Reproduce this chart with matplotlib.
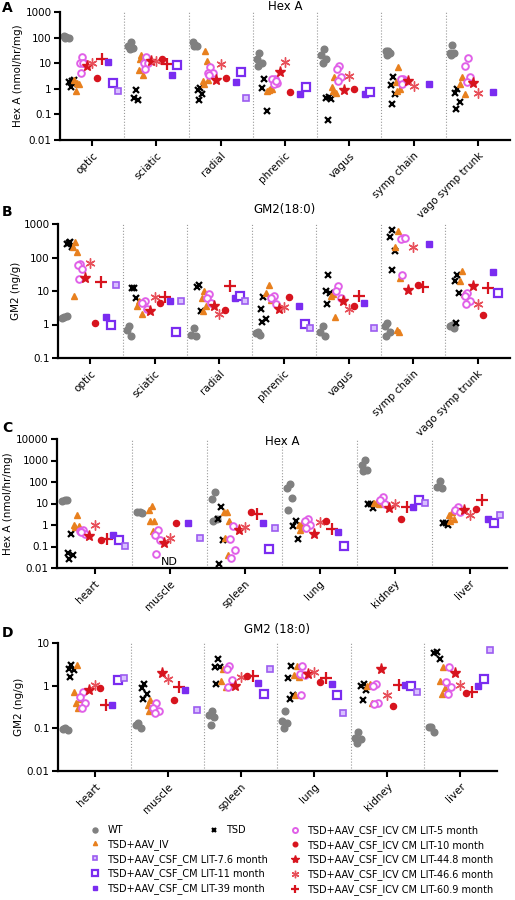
import numpy as np
import matplotlib.pyplot as plt
from matplotlib.lines import Line2D

nerves = ['optic', 'sciatic', 'radial', 'phrenic', 'vagus', 'symp chain', 'vago symp trunk']
organs = ['heart', 'muscle', 'spleen', 'lung', 'kidney', 'liver']

groups = ['WT', 'TSD', 'IV', 'L5', 'L44', 'L46', 'L10', 'L60', 'L39', 'L11', 'L7']

# panel A: Hex A, nerves
a_vals = {
    'WT':  [[110, 120, 100, 95], [70, 45, 40, 35], [50, 70, 48, 45], [25, 15, 10, 8], [35, 20, 15, 10], [30, 30, 25, 20], [50, 25, 25, 20]],
    'TSD': [[2, 1.8, 2.2, 1.2, 1.5], [0.9, 0.45, 0.35], [1.1, 0.9, 0.6, 0.35], [2.5, 1.1, 0.13], [0.5, 0.45, 0.4, 0.06], [3, 1.4, 0.6, 0.25], [1, 0.7, 0.3, 0.17]],
    'IV':  [[1.7, 2.2, 1.5, 0.8], [20, 5.5, 3.5, 15], [30, 2, 2.2, 1.5, 12], [1, 0.8, 1.0, 0.9], [3, 1.2, 0.7, 0.8], [7, 1.8, 1.0, 0.8], [3, 1.5, 0.6]],
    'L5':  [[17, 10, 10, 4, 10], [18, 10, 10, 6], [7, 4, 4, 3.5], [2.5, 2.5, 1.7, 1.5, 2], [7.5, 6, 2.8, 2], [2.5, 2.5, 2, 1.5], [16, 8, 3, 1.8]],
    'L10': [[2.6], [15], [2.7], [0.75], [0.95], [], []],
    'L44': [[8], [12], [2.2], [4.5], [0.9], [2.1], [1.7]],
    'L46': [[10], [12], [9], [11], [3.3], [1.3], [0.7]],
    'L60': [[15], [9], [], [], [], [], []],
    'L7':  [[0.8], [], [0.45], [], [], [], []],
    'L11': [[1.7], [8.5], [4.5], [1.2], [0.75], [], []],
    'L39': [[11], [3.5], [1.9], [0.65], [0.6], [1.5], [0.75]],
}

# panel B: GM2, nerves
b_vals = {
    'WT':  [[1.7, 1.6, 1.8], [0.9, 0.7, 0.45], [0.8, 0.5, 0.45], [0.6, 0.55, 0.5], [0.9, 0.6, 0.45], [1.1, 0.9, 0.6, 0.45], [1, 0.9, 0.8]],
    'TSD': [[300, 250, 200, 280], [12, 12, 6], [15, 13, 2.5], [6.5, 3, 1.5, 1.2], [30, 10, 9, 4], [650, 400, 160, 42], [30, 20, 9, 1.1]],
    'IV':  [[300, 200, 150, 7], [5, 3.5, 2], [10, 6, 3.5, 2.5], [15, 9, 5.5], [8, 7, 1.7], [600, 200, 25, 0.7, 0.6], [40, 20, 8]],
    'L5':  [[65, 60, 45, 23], [5, 4.5, 3], [8, 6, 4.5], [7, 6, 4], [14, 10, 6], [380, 350, 370, 30], [9, 7, 5, 4]],
    'L10': [[1.1], [4.5], [2.7], [6.5], [3.6], [15], [1.9]],
    'L44': [[25], [2.6], [3.6], [3], [5], [11], [14]],
    'L46': [[70], [6.5], [2], [3.3], [3], [200], [4]],
    'L60': [[18], [6.5], [14], [], [7], [13], [12]],
    'L7':  [[15], [5], [5.2], [0.8], [0.8], [], []],
    'L11': [[1.0], [0.6], [7], [1.05], [], [], [9]],
    'L39': [[1.7], [5], [6], [3.5], [4.3], [250], [38]],
}

# panel C: Hex A, organs
c_vals = {
    'WT':  [[14, 13, 14], [4, 4, 3.5], [35, 16, 2, 1.5], [80, 55, 18, 5], [1100, 600, 350, 330], [110, 60, 55]],
    'TSD': [[0.4, 0.05, 0.04, 0.025], [], [7, 2, 0.2, 0.015], [1.6, 0.9, 0.22], [10, 9, 6], [1.3, 1.2, 1.0]],
    'IV':  [[3, 1, 0.9, 0.8], [8, 5, 1.5, 1.5, 0.5], [4, 4, 1.5, 0.25, 0.04], [1.2, 1, 0.7, 0.6], [12, 11, 10], [4, 3, 2, 1.5]],
    'L5':  [[0.6, 0.5, 0.4, 0.45], [0.6, 0.35, 0.2, 0.045], [0.9, 0.22, 0.07, 0.03], [2, 1.5, 1, 0.7], [20, 15, 10], [7, 5, 4]],
    'L10': [[0.2], [1.2], [4], [1.5], [2], [5.5]],
    'L44': [[0.3], [0.15], [0.6], [0.4], [6.5], [5]],
    'L46': [[1], [0.25], [0.8], [1.4], [9], [3]],
    'L60': [[0.22], [], [3.2], [0.65], [7], [15]],
    'L7':  [[0.11], [0.25], [0.7], [], [11], [3]],
    'L11': [[0.2], [], [0.075], [0.11], [15], [1.2]],
    'L39': [[0.33], [1.2], [1.2], [0.45], [7], [1.9]],
}

# panel D: GM2, organs
d_vals = {
    'WT':  [[0.1, 0.095, 0.09], [0.13, 0.12, 0.1], [0.25, 0.2, 0.18, 0.12], [0.25, 0.15, 0.13, 0.1], [0.08, 0.06, 0.055, 0.045], [0.11, 0.11, 0.08]],
    'TSD': [[3, 2.5, 2.3, 1.6], [1.1, 0.9, 0.65, 0.5], [4.2, 2.8, 2.7, 1.1], [2.9, 1.5, 0.6, 0.5], [1.1, 1.0, 0.8, 0.45], [6, 5.8, 4.3]],
    'IV':  [[3, 0.7, 0.5, 0.4, 0.3], [0.45, 0.35, 0.3, 0.25], [2.5, 1.3, 0.95], [2.9, 1.8, 1.6, 0.6], [1.1, 1.0, 0.4], [2.7, 1.3, 0.9, 0.65]],
    'L5':  [[0.7, 0.55, 0.4, 0.3], [0.4, 0.3, 0.25, 0.23], [2.9, 2.5, 1.35, 0.95], [2.9, 1.9, 1.8, 0.6], [1.1, 1.0, 0.4, 0.38], [2.7, 1.2, 0.95, 0.65]],
    'L44': [[0.8], [2], [1.0], [1.9], [2.4], [2.0]],
    'L46': [[1.05], [1.4], [1.6], [2.1], [0.6], [1.05]],
    'L10': [[0.88], [0.47], [1.7], [1.25], [0.34], [0.68]],
    'L60': [[0.35], [0.95], [1.7], [1.5], [1.05], [0.7]],
    'L39': [[0.35], [0.78], [1.15], [1.1], [1.05], [1.0]],
    'L11': [[1.35], [], [0.65], [0.6], [1.0], [1.45]],
    'L7':  [[1.55], [0.27], [2.5], [0.23], [0.7], [7]],
}

labels = {
    'WT': 'WT', 'TSD': 'TSD', 'IV': 'TSD+AAV_IV',
    'L7': 'TSD+AAV_CSF_CM LIT-7.6 month', 'L11': 'TSD+AAV_CSF_CM LIT-11 month', 'L39': 'TSD+AAV_CSF_CM LIT-39 month',
    'L5': 'TSD+AAV_CSF_ICV CM LIT-5 month', 'L10': 'TSD+AAV_CSF_ICV CM LIT-10 month',
    'L44': 'TSD+AAV_CSF_ICV CM LIT-44.8 month', 'L46': 'TSD+AAV_CSF_ICV CM LIT-46.6 month',
    'L60': 'TSD+AAV_CSF_ICV CM LIT-60.9 month',
}

purple = '#7a2cf0'
red = '#d7141e'
asterisk = (6, 2, 0)
style = {
    'WT':  dict(marker='o', color='#808080', ms=6),
    'TSD': dict(marker='x', color='black', ms=6, mew=1.6),
    'IV':  dict(marker='^', color='#e8801e', ms=5),
    'L5':  dict(marker='o', color='#e060e8', ms=6, mfc='white', mew=1.4),
    'L10': dict(marker='o', color=red, ms=5.5),
    'L44': dict(marker='*', color=red, ms=10),
    'L46': dict(marker=asterisk, color='#e8505a', ms=9, mew=1.0),
    'L60': dict(marker='+', color=red, ms=10, mew=1.6),
    'L7':  dict(marker='s', color='#9c5cf0', ms=6, mfc='#d8c0ff', mew=1.2),
    'L11': dict(marker='s', color=purple, ms=6.5, mfc='white', mew=1.6),
    'L39': dict(marker='s', color=purple, ms=6),
}

offsets = dict(zip(groups, np.linspace(-0.4, 0.4, len(groups))))
jitter = [0, -0.035, 0.035, -0.015, 0.02, -0.045]

fig = plt.figure(figsize=(5.15, 9), dpi=100)
H = 900.0
W = 515.0


def panel(box, vals, cats, ylim, ylabel, title, letter, title_y, letter_y):
    x0, x1, top, bot = box
    ax = fig.add_axes([x0 / W, 1 - bot / H, (x1 - x0) / W, (bot - top) / H])
    for g in groups:
        st = dict(style[g])
        ms = st.pop('ms')
        for i, ys in enumerate(vals[g]):
            xs = [i + offsets[g] + jitter[k % len(jitter)] for k in range(len(ys))]
            ax.plot(xs, ys, ls='none', markersize=ms * 0.8, **st)
    ax.set_yscale('log')
    ax.set_ylim(*ylim)
    ax.set_xlim(-0.5, len(cats) - 0.5)
    for i in range(1, len(cats)):
        ax.axvline(i - 0.5, color='#999999', ls=':', lw=0.8)
    ax.set_xticks(range(len(cats)))
    ax.set_xticklabels(cats, rotation=45, ha='right', rotation_mode='anchor', fontsize=7.5)
    ax.yaxis.set_major_formatter(plt.FuncFormatter(lambda v, p: ('%g' % v)))
    ax.minorticks_off()
    ax.tick_params(axis='y', labelsize=7.5, width=1.5, length=4, pad=2)
    ax.tick_params(axis='x', width=1.5, length=4)
    for s in ['top', 'right']:
        ax.spines[s].set_visible(False)
    for s in ['left', 'bottom']:
        ax.spines[s].set_linewidth(1.6)
    ax.set_ylabel(ylabel, fontsize=7.5, labelpad=2)
    fig.text((x0 + x1) / 2 / W, 1 - title_y / H, title, ha='center', va='center', fontsize=8.5)
    fig.text(2 / W, 1 - letter_y / H, letter, fontsize=10, fontweight='bold', va='center')
    return ax


panel((60, 510, 12, 140), a_vals, nerves, (0.01, 1000), 'Hex A (nmol/hr/mg)', 'Hex A', 'A', 7, 8)
panel((58, 510, 224, 358), b_vals, nerves, (0.1, 1000), 'GM2 (ng/g)', 'GM2(18:0)', 'B', 210, 212)
axc = panel((57, 507, 439, 568), c_vals, organs, (0.01, 10000), 'Hex A (nmol/hr/mg)', 'Hex A', 'C', 442, 428)
axc.text(1, 0.0115, 'ND', ha='center', va='bottom', fontsize=8)
panel((58, 497, 643, 771), d_vals, organs, (0.01, 10), 'GM2 (ng/g)', 'GM2 (18:0)', 'D', 630, 633)


def legend_col(keys, xm, y0):
    hs = []
    for k in keys:
        st = dict(style[k])
        ms = st.pop('ms')
        hs.append(Line2D([], [], ls='none', markersize=ms * 0.6, **st))
    fig.legend(hs, [labels[k] for k in keys], loc='upper left', bbox_to_anchor=(xm / W, 1 - y0 / H),
               frameon=False, fontsize=7, handlelength=1.0, handletextpad=0.8, labelspacing=0.4,
               borderpad=0, borderaxespad=0)


legend_col(['WT', 'IV', 'L7', 'L11', 'L39'], 90, 825)
legend_col(['TSD'], 209, 825)
legend_col(['L5', 'L10', 'L44', 'L46', 'L60'], 290, 825)

fig.savefig('out.png', dpi=100)
